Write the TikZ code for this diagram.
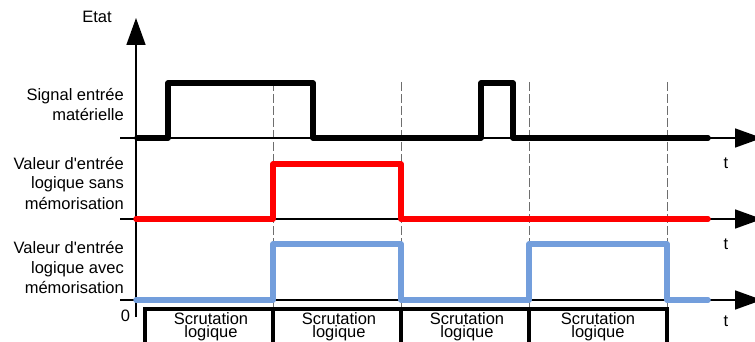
\documentclass[tikz,border=0pt]{standalone}
\usepackage{fontspec}
\setmainfont{Liberation Sans}[Ligatures=TeXOff]
\usetikzlibrary{arrows.meta}
\definecolor{sigblue}{RGB}{115,158,220}
\definecolor{dashgray}{RGB}{110,110,110}
\begin{document}
\begin{tikzpicture}[x=1pt,y=-1pt,
  lbl/.style={inner sep=0pt,font=\fontsize{16.5}{20}\selectfont},
  axisline/.style={line width=1.6pt,-{Triangle[length=27pt,width=19pt]}},
  guide/.style={dashgray,line width=0.8pt,dash pattern=on 9pt off 3pt},
  sig/.style={line width=5.5pt,line join=round,line cap=round},
  boxline/.style={line width=3.2pt}]
\useasboundingbox (0,0) rectangle (755,342);
\clip (0,0) rectangle (755,342);
% guides
\foreach \x in {273,401,529,667}{\draw[guide] (\x,82) -- (\x,309);}
% axes
\draw[axisline] (136,317) -- (136,18);
\draw[axisline] (120,138) -- (762,138);
\draw[axisline] (120,219) -- (762,219);
\draw[axisline] (120,300) -- (762,300);
% signals
\draw[sig] (137,138) -- (168,138) -- (168,83) -- (313,83) -- (313,138) -- (481,138) -- (481,83) -- (513,83) -- (513,138) -- (708,138);
\draw[sig,red] (136,219) -- (273,219) -- (273,164) -- (401,164) -- (401,219) -- (708,219);
\draw[sig,sigblue] (136,300) -- (273,300) -- (273,244) -- (401,244) -- (401,300) -- (529,300) -- (529,244) -- (667,244) -- (667,300) -- (708,300);
% boxes
\draw[boxline] (145,360) -- (145,309) -- (667,309) -- (667,360);
\foreach \x in {273,401,529}{\draw[boxline] (\x,309) -- (\x,360);}
\foreach \c/\n in {211/a,339/b,467/c,598/d}{
  \node[lbl,anchor=base] (sc\n) at (\c,324) {Scrutation};
  \node[lbl,anchor=base] (lg\n) at (\c,337) {logique};
}
% labels
\node[lbl,anchor=base] (etat) at (97,23) {Etat};
\node[lbl,anchor=base] (zero) at (125.5,321) {0};
\node[lbl,anchor=base] (t1) at (726,168) {t};
\node[lbl,anchor=base] (t2) at (726,249) {t};
\node[lbl,anchor=base] (t3) at (726,326) {t};
\node[lbl,anchor=base east] (s1) at (124,101) {Signal entrée};
\node[lbl,anchor=base east] (s2) at (124,121) {matérielle};
\node[lbl,anchor=base east] (r1) at (124,169) {Valeur d'entrée};
\node[lbl,anchor=base east] (r2) at (124,189) {logique sans};
\node[lbl,anchor=base east] (r3) at (124,209) {mémorisation};
\node[lbl,anchor=base east] (b1) at (124,253) {Valeur d'entrée};
\node[lbl,anchor=base east] (b2) at (124,273) {logique avec};
\node[lbl,anchor=base east] (b3) at (124,293) {mémorisation};
\end{tikzpicture}
\end{document}
